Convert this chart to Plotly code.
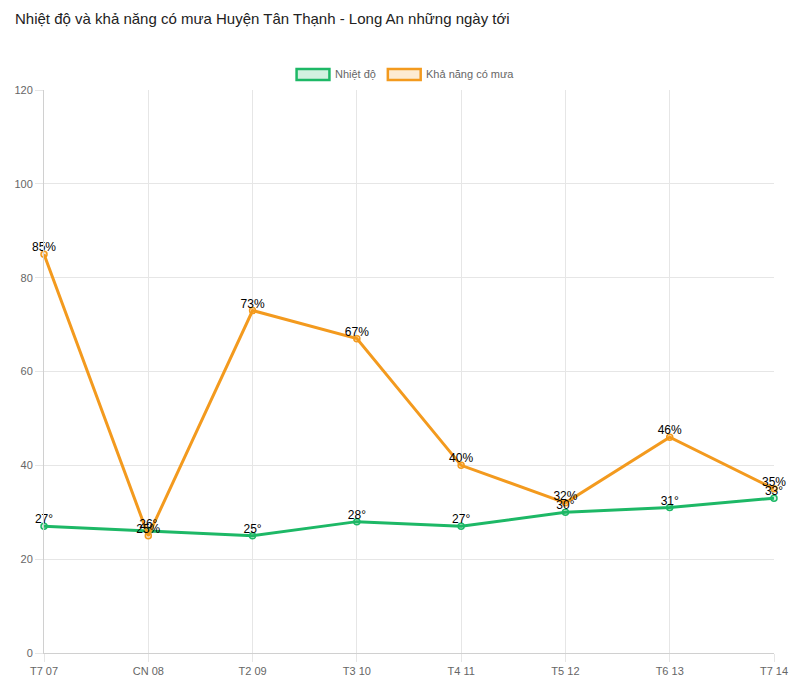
import plotly.graph_objects as go

days = ["T7 07", "CN 08", "T2 09", "T3 10", "T4 11", "T5 12", "T6 13", "T7 14"]
temperature = [27, 26, 25, 28, 27, 30, 31, 33]
rain_chance = [85, 25, 73, 67, 40, 32, 46, 35]
y_ticks = [0, 20, 40, 60, 80, 100, 120]

green = "#1db866"
orange = "#f39a1e"
label_font = dict(family="Arial, Liberation Sans", size=12, color="#000")

fig = go.Figure()
for vals, col, fillc, name, suffix in [
    (temperature, green, "rgba(29,184,102,0.2)", "Nhiệt độ", "°"),
    (rain_chance, orange, "rgba(243,154,30,0.2)", "Khả năng có mưa", "%"),
]:
    fig.add_trace(go.Scatter(
        x=days, y=vals, mode="lines+markers", name=name,
        line=dict(color=col, width=3),
        marker=dict(size=6, color=fillc, line=dict(color=col, width=1.5)),
        cliponaxis=False, showlegend=False,
    ))
for vals, suffix in [(temperature, "°"), (rain_chance, "%")]:
    fig.add_trace(go.Scatter(
        x=days, y=vals, mode="text", text=[f"{v}{suffix}" for v in vals],
        textposition="top center", textfont=label_font,
        cliponaxis=False, showlegend=False, hoverinfo="skip",
    ))

# manual legend (box swatches like the reference)
legend_items = [("Nhiệt độ", green, "rgba(29,184,102,0.2)", 0.346),
                ("Khả năng có mưa", orange, "rgba(243,154,30,0.2)", 0.471)]
for label, col, fillc, x0 in legend_items:
    fig.add_shape(type="rect", xref="paper", yref="paper",
                  x0=x0, x1=x0 + 0.045, y0=1.0 + 10/563, y1=1.0 + 21/563,
                  line=dict(color=col, width=2.5), fillcolor=fillc)
    fig.add_annotation(text=label, xref="paper", yref="paper", x=x0 + 0.050,
                       y=1.0 + 16/563, xanchor="left", yanchor="middle", showarrow=False,
                       font=dict(family="Arial, Liberation Sans", size=11, color="#666"))

fig.update_layout(
    width=800, height=693,
    margin=dict(l=44, r=22, t=90, b=40),
    paper_bgcolor="white", plot_bgcolor="white",
    title=dict(text="Nhiệt độ và khả năng có mưa Huyện Tân Thạnh - Long An những ngày tới",
               x=15/800, xanchor="left", y=1 - 19/693, yanchor="middle",
               font=dict(family="Arial, Liberation Sans", size=15, color="#222")),
    xaxis=dict(showgrid=True, gridcolor="#e6e6e6", ticks="outside", ticklen=8,
               tickcolor="#e6e6e6", showline=True, linecolor="#d0d0d0",
               tickfont=dict(family="Arial, Liberation Sans", size=11, color="#666"),
               range=[0, len(days) - 1], zeroline=False),
    yaxis=dict(range=[0, 120], tickvals=y_ticks, showgrid=True, gridcolor="#e6e6e6",
               ticks="outside", ticklen=8, tickcolor="#e6e6e6", showline=True,
               linecolor="#d0d0d0", zeroline=False,
               tickfont=dict(family="Arial, Liberation Sans", size=11, color="#666")),
)

fig.write_html("out.html")
